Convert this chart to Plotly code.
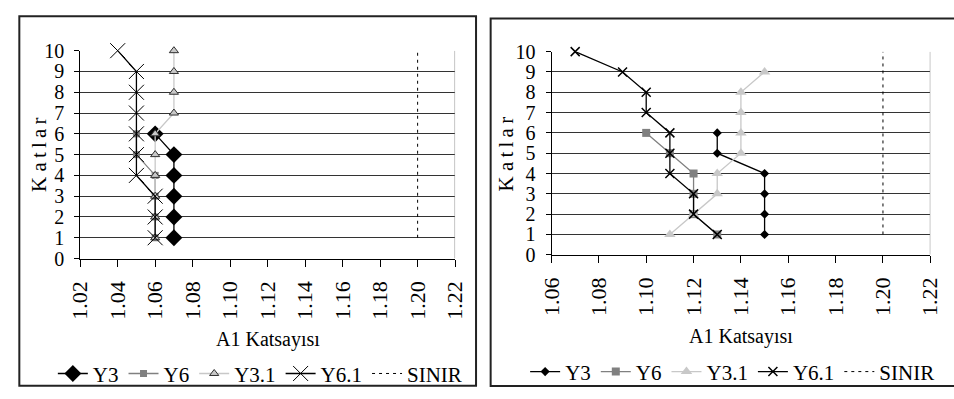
import plotly.graph_objects as go

# ---- data -------------------------------------------------------------
floors_6 = [1, 2, 3, 4, 5, 6]
floors_10 = [1, 2, 3, 4, 5, 6, 7, 8, 9, 10]

# left panel (A1 coefficient per storey)
left_y3 = [1.07, 1.07, 1.07, 1.07, 1.07, 1.06]
left_y6 = [1.06, 1.06, 1.06, 1.06, 1.05, 1.05]
left_y31 = [1.06, 1.06, 1.06, 1.06, 1.06, 1.06, 1.07, 1.07, 1.07, 1.07]
left_y61 = [1.06, 1.06, 1.06, 1.05, 1.05, 1.05, 1.05, 1.05, 1.05, 1.04]

# right panel
right_y3 = [1.15, 1.15, 1.15, 1.15, 1.13, 1.13]
right_y6 = [1.13, 1.12, 1.12, 1.12, 1.11, 1.10]
right_y31 = [1.11, 1.12, 1.13, 1.13, 1.14, 1.14, 1.14, 1.14, 1.15]
right_y61 = [1.13, 1.12, 1.12, 1.11, 1.11, 1.11, 1.10, 1.10, 1.09, 1.07]

# limit value
sinir_x = [1.20] * 10

left_ticks = [1.02, 1.04, 1.06, 1.08, 1.10, 1.12, 1.14, 1.16, 1.18, 1.20, 1.22]
left_ticktext = ["1.02", "1.04", "1.06", "1.08", "1.10", "1.12", "1.14", "1.16", "1.18", "1.20", "1.22"]
right_ticks = [1.06, 1.08, 1.10, 1.12, 1.14, 1.16, 1.18, 1.20, 1.22]
right_ticktext = ["1.06", "1.08", "1.10", "1.12", "1.14", "1.16", "1.18", "1.20", "1.22"]
y_ticks = list(range(0, 11))

# ---- layout helpers ------------------------------------------------------
W, H = 954, 399
FONT = "Liberation Serif"


def px(x):
    return x / W


def py(y):
    return 1 - y / H


fig = go.Figure()


def add_panel(xa, ya, leg, y3, y6, y31, y61, big):
    if big:
        m3 = dict(symbol="diamond", size=13, color="black")
        m6 = dict(symbol="square", size=7, color="#808080")
        m31 = dict(symbol="triangle-up", size=8, color="#c8c8c8",
                   line=dict(color="#303030", width=1))
        m61 = dict(symbol="x-thin-open", size=15, color="black",
                   line=dict(color="black", width=1))
    else:
        m3 = dict(symbol="diamond", size=7, color="black")
        m6 = dict(symbol="square", size=8, color="#808080")
        m31 = dict(symbol="triangle-up", size=10, color="#c8c8c8")
        m61 = dict(symbol="x-thin-open", size=9, color="black",
                   line=dict(color="black", width=1.5))
    common = dict(xaxis=xa, yaxis=ya, legend=leg, mode="lines+markers", cliponaxis=False)
    fig.add_trace(go.Scatter(x=y3, y=floors_6, name="Y3", marker=m3,
                             line=dict(color="black", width=1.3), **common))
    fig.add_trace(go.Scatter(x=y6, y=floors_6, name="Y6", marker=m6,
                             line=dict(color="#808080", width=1.3), **common))
    fig.add_trace(go.Scatter(x=y31, y=floors_10[:len(y31)], name="Y3.1", marker=m31,
                             line=dict(color="#c8c8c8", width=1.3), **common))
    fig.add_trace(go.Scatter(x=y61, y=floors_10, name="Y6.1", marker=m61,
                             line=dict(color="black", width=1.3), **common))
    fig.add_trace(go.Scatter(x=sinir_x, y=floors_10, name="SINIR", mode="lines",
                             line=dict(color="black", width=1, dash="3px,4px"),
                             xaxis=xa, yaxis=ya, legend=leg, cliponaxis=False))


add_panel("x", "y", "legend", left_y3, left_y6, left_y31, left_y61, True)
add_panel("x2", "y2", "legend2", right_y3, right_y6, right_y31, right_y61, False)

xtickfont = dict(family=FONT, size=22, color="black")
ytickfont = dict(family=FONT, size=20, color="black")

xcommon = dict(showgrid=False, zeroline=False, showline=True, linecolor="black",
               linewidth=1, ticks="outside", ticklen=7, tickcolor="black",
               tickangle=-90, tickfont=xtickfont, ticklabelstandoff=6)
ycommon = dict(range=[0, 10], tickvals=y_ticks, showgrid=True, gridcolor="#333333",
               gridwidth=1, zeroline=False, showline=True, linecolor="black",
               linewidth=1, ticks="outside", ticklen=5, tickcolor="black",
               tickfont=ytickfont, ticklabelstandoff=6)

legfont = dict(family=FONT, size=21, color="black")

fig.update_layout(
    width=W, height=H, autosize=False,
    margin=dict(l=0, r=0, t=0, b=0),
    paper_bgcolor="white", plot_bgcolor="white",
    font=dict(family=FONT, color="black"),
    xaxis=dict(domain=[px(69), px(454)], range=[1.02, 1.22], tickvals=left_ticks,
               ticktext=left_ticktext, anchor="y", **xcommon),
    yaxis=dict(domain=[py(262), py(42)], anchor="x", **ycommon),
    xaxis2=dict(domain=[px(553), px(942)], range=[1.06, 1.22], tickvals=right_ticks,
                ticktext=right_ticktext, anchor="y2", **xcommon),
    yaxis2=dict(domain=[py(258), py(43)], anchor="x2", **ycommon),
    legend=dict(orientation="h", x=px(254), xanchor="center", y=py(384), yanchor="middle",
                font=legfont, bgcolor="rgba(0,0,0,0)", itemwidth=30, tracegroupgap=0),
    legend2=dict(orientation="h", x=px(739), xanchor="center", y=py(382), yanchor="middle",
                 font=legfont, bgcolor="rgba(0,0,0,0)", itemwidth=30, tracegroupgap=0),
    showlegend=True,
)

# axis titles
title_font = dict(family=FONT, size=20, color="black")
ytitle = "K a\u2009t\u2009l\u2009a\u2009r"
fig.add_annotation(text="A1 Katsayısı", xref="paper", yref="paper", x=px(262), y=py(348),
                   showarrow=False, font=title_font, xanchor="center", yanchor="middle")
fig.add_annotation(text="A1 Katsayısı", xref="paper", yref="paper", x=px(748), y=py(344),
                   showarrow=False, font=title_font, xanchor="center", yanchor="middle")
fig.add_annotation(text=ytitle, xref="paper", yref="paper", x=px(26), y=py(152),
                   showarrow=False, font=dict(family=FONT, size=21, color="black"),
                   textangle=-90, xanchor="center", yanchor="middle", borderpad=0)
fig.add_annotation(text=ytitle, xref="paper", yref="paper", x=px(506), y=py(151),
                   showarrow=False, font=dict(family=FONT, size=21, color="black"),
                   textangle=-90, xanchor="center", yanchor="middle", borderpad=0)

# right edges of plot areas and chart frames
fig.add_shape(type="line", xref="x", yref="y", x0=1.22, x1=1.22, y0=0, y1=10,
              line=dict(color="#808080", width=1))
fig.add_shape(type="line", xref="x2", yref="y2", x0=1.22, x1=1.22, y0=0, y1=10,
              line=dict(color="#808080", width=1))
fig.add_shape(type="rect", xref="paper", yref="paper", x0=px(6.5), x1=px(475.5),
              y0=py(396.5), y1=py(5.5), line=dict(color="#222222", width=2))
fig.add_shape(type="rect", xref="paper", yref="paper", x0=px(490.5), x1=px(970),
              y0=py(397), y1=py(8), line=dict(color="#222222", width=2))

fig.write_html("out.html")
